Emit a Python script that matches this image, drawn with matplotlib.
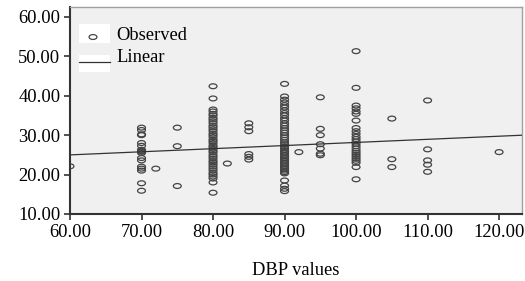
import numpy as np
import matplotlib
matplotlib.use("Agg")
import matplotlib.pyplot as plt
from matplotlib.path import Path
from matplotlib.patches import Rectangle
from matplotlib.ticker import FormatStrFormatter

# Observed data: DBP value -> list of y values
dbp_60 = [22.1]
dbp_70 = [31.9, 31.3, 30.2, 30.0, 28.0, 27.3, 26.3, 26.0, 25.8, 25.5, 24.2, 23.6, 22.0, 21.5, 21.0, 17.8, 15.9]
dbp_72 = [21.5]
dbp_75 = [31.9, 27.2, 17.1]
dbp_80 = [42.4, 39.3, 36.5, 36.0, 35.4, 35.0, 34.4, 34.0, 33.5, 33.0, 32.4, 32.0, 31.5, 31.0, 30.4,
          30.0, 29.5, 28.9, 28.5, 28.0, 27.4, 27.0, 26.5, 26.0, 25.6, 25.0, 24.5, 24.0, 23.4, 23.0,
          22.5, 22.0, 21.5, 21.0, 20.4, 20.0, 19.5, 19.0, 18.0, 15.4]
dbp_82 = [22.8]
dbp_85 = [33.0, 32.0, 31.0, 25.2, 24.5, 23.8]
dbp_90 = [43.0, 39.8, 39.0, 38.3, 37.6, 37.0, 36.3, 35.6, 35.0, 34.3, 33.7, 33.0, 32.4, 31.8, 31.2,
          30.6, 30.0, 29.4, 28.8, 28.2, 27.7, 27.2, 26.7, 26.2, 25.8, 25.4, 25.0, 24.6, 24.2, 23.8,
          23.4, 23.0, 22.6, 22.2, 21.8, 21.4, 21.0, 20.6, 20.3, 18.5, 17.2, 16.4, 15.8]
dbp_92 = [25.7]
dbp_95 = [39.6, 31.6, 30.0, 27.7, 26.6, 25.3, 24.9]
dbp_100 = [51.3, 42.0, 37.5, 36.8, 36.0, 35.4, 33.7, 31.8, 31.0, 30.3, 29.6, 29.0, 28.4, 27.8, 27.2,
           26.6, 26.0, 25.5, 25.0, 24.5, 24.0, 23.5, 23.0, 21.9, 18.8]
dbp_105 = [34.2, 23.9, 21.9]
dbp_110 = [38.8, 26.4, 23.6, 22.5, 20.7]
dbp_120 = [25.7]

groups = {60: dbp_60, 70: dbp_70, 72: dbp_72, 75: dbp_75, 80: dbp_80, 82: dbp_82, 85: dbp_85,
          90: dbp_90, 92: dbp_92, 95: dbp_95, 100: dbp_100, 105: dbp_105, 110: dbp_110, 120: dbp_120}

# Linear fit
fit_intercept = 20.25
fit_slope = 0.079

x_ticks = [60, 70, 80, 90, 100, 110, 120]
y_ticks = [10, 20, 30, 40, 50, 60]
x_label = "DBP values"
legend_labels = ["Observed", "Linear"]

plt.rcParams['font.family'] = ['Liberation Serif', 'DejaVu Serif']

fig = plt.figure(figsize=(5.25, 2.81), dpi=100)
ax = fig.add_axes([70/525, 1-214/281, 452/525, 207/281])
ax.set_facecolor('#f0f0f0')

ell = Path.unit_circle().transformed(matplotlib.transforms.Affine2D().scale(1.0, 0.62))

xs = []
ys = []
for k, v in groups.items():
    xs += [k] * len(v)
    ys += v
ax.scatter(xs, ys, marker=ell, s=32, facecolors='none', edgecolors='#444444', linewidths=0.9, zorder=3)

xlim = (60, 123.2)
lx = np.array(xlim)
ax.plot(lx, fit_intercept + fit_slope * lx, color='#333333', lw=0.9, zorder=4)

ax.set_xlim(*xlim)
ax.set_ylim(10, 62.5)
ax.set_xticks(x_ticks)
ax.set_yticks(y_ticks)
ax.xaxis.set_major_formatter(FormatStrFormatter('%.2f'))
ax.yaxis.set_major_formatter(FormatStrFormatter('%.2f'))
ax.tick_params(axis='both', direction='out', length=4, width=1.2, color='#333333',
               labelsize=13.3, labelcolor='black', pad=3)
for s in ['left', 'bottom']:
    ax.spines[s].set_color('#333333')
    ax.spines[s].set_linewidth(1.5)
for s in ['top', 'right']:
    ax.spines[s].set_color('#a0a0a0')
    ax.spines[s].set_linewidth(1.0)

ax.set_xlabel(x_label, fontsize=13.3, labelpad=15)

# manual legend with white handle backgrounds
for (y0, y1) in [(0.826, 0.918), (0.686, 0.768)]:
    ax.add_patch(Rectangle((0.02, y0), 0.068, y1 - y0, transform=ax.transAxes,
                           facecolor='white', edgecolor='none', zorder=5))
ax.scatter([0.0509], [0.855], marker=ell, s=32, facecolors='none', edgecolors='#444444',
           linewidths=0.9, transform=ax.transAxes, zorder=6, clip_on=False)
ax.plot([0.02, 0.088], [0.734, 0.734], color='#333333', lw=0.9, transform=ax.transAxes, zorder=6)
ax.text(0.1018, 0.862, legend_labels[0], transform=ax.transAxes, fontsize=13.3, va='center', ha='left', zorder=6)
ax.text(0.1018, 0.757, legend_labels[1], transform=ax.transAxes, fontsize=13.3, va='center', ha='left', zorder=6)

fig.savefig('out.png', dpi=100)
